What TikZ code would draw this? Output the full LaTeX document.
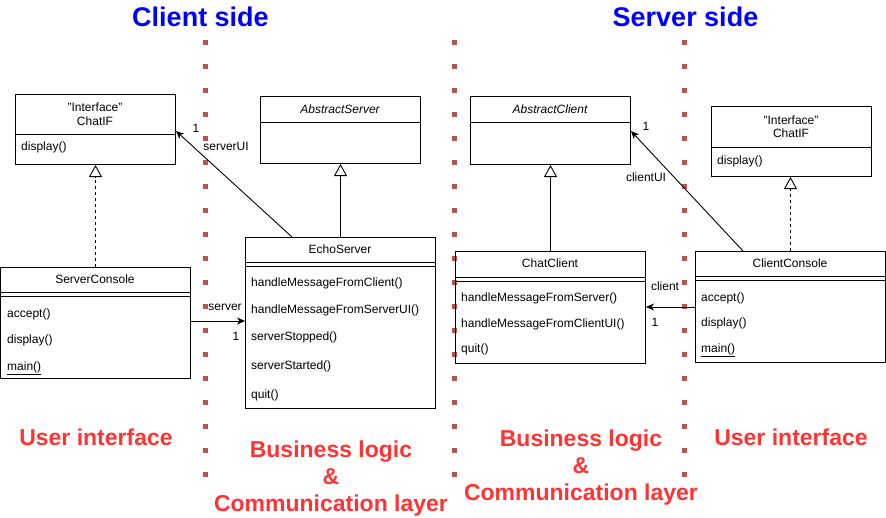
\documentclass[tikz,border=0pt]{standalone}
\usepackage{fontspec}
\setmainfont{Liberation Sans}
\usetikzlibrary{arrows.meta,calc}
\definecolor{sepred}{RGB}{184,84,80}
\definecolor{labred}{RGB}{255,51,51}
\definecolor{titleblue}{RGB}{0,0,255}
\begin{document}
\begin{tikzpicture}[x=1pt,y=-1pt,
  every node/.style={font=\fontsize{12}{14}\selectfont, inner sep=0pt},
  cls/.style={draw, line width=1pt, anchor=north west, inner sep=0pt},
  ln/.style={line width=1pt},
  item/.style={anchor=west, text height=8.6pt, text depth=2.6pt},
  ctr/.style={text height=8.6pt, text depth=2.6pt},
  lbl/.style={text height=8.6pt, text depth=2.6pt},
  assoc/.style={line width=0.9pt, -{Stealth[length=8pt,width=7pt,inset=2.5pt]}},
  gen/.style={line width=0.9pt, -{Triangle[length=12pt,width=13pt,fill=white,line width=0.9pt]}},
  real/.style={gen, dash pattern=on 3pt off 3pt},
  sep/.style={sepred, line width=5pt, dash pattern=on 5pt off 19pt},
  ttl/.style={font=\fontsize{27}{30}\selectfont\bfseries, text=titleblue},
  redlab/.style={font=\fontsize{23}{27}\selectfont\bfseries, text=labred, align=center}
]
\useasboundingbox (0,0) rectangle (886,517);

% separators
\draw[sep] (205,39.5) -- (205,478);
\draw[sep] (454,39.5) -- (454,478);
\draw[sep] (684,39.5) -- (684,478);

% titles
\node[ttl] (tclient) at (200.5,17) {Client side};
\node[ttl] (tserver) at (685.5,17) {Server side};

% ChatIF left
\node[cls, minimum width=160pt, minimum height=70pt] (ifL) at (15,94) {};
\draw[ln] ($(ifL.north west)+(0,40)$) -- ($(ifL.north east)+(0,40)$);
\node[ctr] (ifLa) at (95,108) {"Interface"};
\node[ctr] (ifLb) at (95,122) {ChatIF};
\node[item] (ifLc) at (21,147) {display()};

% AbstractServer
\node[cls, minimum width=160pt, minimum height=67pt] (as) at (260,96) {};
\draw[ln] ($(as.north west)+(0,26)$) -- ($(as.north east)+(0,26)$);
\node[ctr, font=\fontsize{12}{14}\selectfont\itshape] (asa) at (340,110) {AbstractServer};

% ServerConsole
\node[cls, minimum width=190pt, minimum height=111pt] (sc) at (0,267) {};
\draw[ln] ($(sc.north west)+(0,25)$) -- ($(sc.north east)+(0,25)$);
\draw[ln] ($(sc.north west)+(0,29)$) -- ($(sc.north east)+(0,29)$);
\node[ctr] (sca) at (95,280) {ServerConsole};
\node[item] (scb) at (7,314) {accept()};
\node[item] (scc) at (7,340) {display()};
\node[item] (scd) at (7,367) {\underline{main()}};

% EchoServer
\node[cls, minimum width=190pt, minimum height=171pt] (echo) at (245,237) {};
\draw[ln] ($(echo.north west)+(0,25)$) -- ($(echo.north east)+(0,25)$);
\draw[ln] ($(echo.north west)+(0,29)$) -- ($(echo.north east)+(0,29)$);
\node[ctr] (echoa) at (340,250) {EchoServer};
\node[item] (echob) at (251,283) {handleMessageFromClient()};
\node[item] (echoc) at (251,310) {handleMessageFromServerUI()};
\node[item, fill={rgb,255:red,248;green,249;blue,250}] (echod) at (251,337) {serverStopped()};
\node[item, fill={rgb,255:red,248;green,249;blue,250}] (echoe) at (251,366) {serverStarted()};
\node[item] (echof) at (251,395) {quit()};

% AbstractClient
\node[cls, minimum width=160pt, minimum height=68pt] (ac) at (470,96) {};
\draw[ln] ($(ac.north west)+(0,26)$) -- ($(ac.north east)+(0,26)$);
\node[ctr, font=\fontsize{12}{14}\selectfont\itshape] (aca) at (550,110) {AbstractClient};

% ChatClient
\node[cls, minimum width=190pt, minimum height=112pt] (cc) at (455,251) {};
\draw[ln] ($(cc.north west)+(0,26)$) -- ($(cc.north east)+(0,26)$);
\draw[ln] ($(cc.north west)+(0,30)$) -- ($(cc.north east)+(0,30)$);
\node[ctr] (cca) at (550,264) {ChatClient};
\node[item] (ccb) at (461,298) {handleMessageFromServer()};
\node[item] (ccc) at (461,324) {handleMessageFromClientUI()};
\node[item] (ccd) at (461,349) {quit()};

% ChatIF right
\node[cls, minimum width=160pt, minimum height=70pt] (ifR) at (711,106) {};
\draw[ln] ($(ifR.north west)+(0,41)$) -- ($(ifR.north east)+(0,41)$);
\node[ctr] (ifRa) at (791,121) {"Interface"};
\node[ctr] (ifRb) at (791,134) {ChatIF};
\node[item] (ifRc) at (717,161) {display()};

% ClientConsole
\node[cls, minimum width=190pt, minimum height=111pt] (clc) at (695,251) {};
\draw[ln] ($(clc.north west)+(0,25)$) -- ($(clc.north east)+(0,25)$);
\draw[ln] ($(clc.north west)+(0,29)$) -- ($(clc.north east)+(0,29)$);
\node[ctr] (clca) at (790,264) {ClientConsole};
\node[item] (clcb) at (701,298) {accept()};
\node[item] (clcc) at (701,323) {display()};
\node[item] (clcd) at (701,349) {\underline{main()}};

% connectors
\draw[real] (sc.north) -- (ifL.south);
\draw[gen] (echo.north) -- (as.south);
\draw[assoc] ($(echo.north west)+(47,0)$) -- ($(ifL.north east)+(0,37)$);
\draw[assoc] ($(sc.north west)+(190,54)$) -- ($(echo.north west)+(0,84)$);
\draw[gen] (cc.north) -- (ac.south);
\draw[real] (clc.north) -- (clc.north |- ifR.south);
\draw[assoc] ($(clc.north west)+(48,0)$) -- ($(ac.north east)+(0,35)$);
\draw[assoc] ($(clc.north west)+(0,56)$) -- ($(cc.north east)+(0,56)$);

% connector labels
\node[lbl] (l1) at (196,129) {1};
\node[lbl] (l2) at (226,147) {serverUI};
\node[lbl] (l3) at (225,307) {server};
\node[lbl] (l4) at (236,337) {1};
\node[lbl] (l5) at (646,127) {1};
\node[lbl] (l6) at (646,178) {clientUI};
\node[lbl] (l7) at (665,287) {client};
\node[lbl] (l8) at (655,323) {1};

% layer labels
\node[redlab] (ui1) at (96,437) {User interface};
\node[redlab] (bl1) at (331,479) {Business logic\\\&\\Communication layer};
\node[redlab] (bl2) at (581,468) {Business logic\\\&\\Communication layer};
\node[redlab] (ui2) at (791,437) {User interface};
\end{tikzpicture}
\end{document}
